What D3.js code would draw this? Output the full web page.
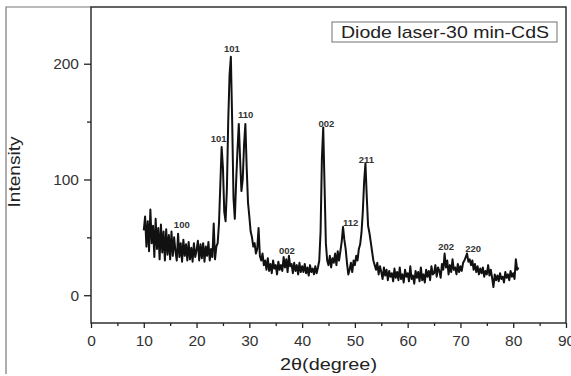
<!DOCTYPE html>
<html>
<head>
<meta charset="utf-8">
<script src="https://cdn.jsdelivr.net/npm/d3@7/dist/d3.min.js"></script>
<style>
  html, body { margin: 0; padding: 0; background: #fff; }
  svg { display: block; font-family: "Liberation Sans", Arial, sans-serif; }
</style>
</head>
<body>
<svg id="chart" width="571" height="376"></svg>
<script>
// XRD pattern of CdS film, diode laser 30 min
const scanStart = 10;      // first 2θ value (degree)
const scanStep = 0.25;     // 2θ step (degree)
const intensity = [
  // 10 - 15
  56, 68, 42, 64, 38, 74, 45, 60, 33, 66, 40, 58,
  31, 61, 37, 55, 30, 57, 35, 52, 31, 55, 34, 50,
  // 16 - 21
  38, 30, 53, 33, 45, 29, 48, 34, 44, 30, 46, 31,
  41, 29, 45, 33, 39, 47, 30, 44, 32, 45, 29, 42,
  // 22 - 23
  34, 46, 30, 40, 33, 62, 31, 42,
  // 24 - 33 : 101 / 101 / 110 group
  45, 62, 95, 128, 110, 72, 64, 92,
  150, 190, 206, 150, 84, 66, 98, 125,
  148, 118, 90, 100, 130, 148, 110, 80,
  68, 55, 50, 42, 45, 36, 40, 58,
  34, 30, 36, 26,
  // 33 - 43
  30, 22, 32, 21, 27, 19, 30, 23, 26, 18, 29, 22,
  26, 21, 33, 24, 31, 20, 34, 25, 27, 19, 28, 21,
  26, 18, 28, 20, 25, 20, 27, 19, 24, 17, 26, 20,
  23, 18, 25, 19,
  // 43 - 45 : 002
  24, 30, 55, 118, 145, 95, 45, 30,
  // 45 - 47
  26, 34, 24, 32, 28, 36, 26, 38,
  // 47 - 49 : 112
  30, 38, 46, 59, 48, 40, 28, 18,
  // 49 - 51
  22, 28, 20, 30, 26, 34, 30, 40,
  // 51 - 54 : 211
  44, 54, 72, 98, 114, 85, 60, 54, 46, 38, 30, 26,
  // 54 - 67
  22, 28, 18, 25, 20, 14, 24, 17, 22, 13, 21, 16,
  19, 12, 23, 15, 20, 13, 24, 14, 18, 11, 22, 16,
  19, 12, 25, 14, 17, 10, 21, 15, 20, 12, 24, 13,
  18, 11, 22, 16, 21, 13, 25, 18, 19, 26, 16, 24,
  21, 15, 27, 22,
  // 67 - 81 : 202 / 220
  36, 24, 30, 18, 26, 20, 31, 22, 24, 18, 27, 20,
  25, 21, 28, 30, 33, 36, 29, 31, 26, 30, 22, 27,
  20, 25, 18, 23, 19, 24, 16, 21, 18, 26, 17, 22,
  15, 7, 18, 13, 17, 12, 19, 14, 16, 11, 20, 15,
  18, 13, 21, 16, 19, 14, 31, 22, 24
];

// Miller index labels: text, 2θ (degree), intensity at the label baseline
const peakText = ["100", "101", "101", "110", "002", "002", "112", "211", "202", "220"];
const peakAngle = [17.2, 24.2, 26.7, 29.3, 37.1, 44.6, 49.2, 52.2, 67.3, 72.4];
const peakLevel = [58.4, 132, 210, 152.8, 35.9, 145, 60.2, 113.9, 39.4, 37.7];

const xMajorTicks = [0, 10, 20, 30, 40, 50, 60, 70, 80, 90];
const xMinorTicks = [5, 15, 25, 35, 45, 55, 65, 75, 85];
const yMajorTicks = [0, 100, 200];
const yMinorTicks = [50, 150];

const legendText = "Diode laser-30 min-CdS";
const xTitle = "2θ(degree)";
const yTitle = "Intensity";

const svg = d3.select("#chart");
const plotLeft = 91, plotRight = 566, plotTop = 7, plotBottom = 323;

const x = d3.scaleLinear().domain([0, 90]).range([plotLeft, plotRight]);
const y = d3.scaleLinear().domain([-24, 249]).range([plotBottom, plotTop]);

// outer image border
svg.append("path")
  .attr("d", `M6,374V${plotTop}H${plotLeft}`)
  .attr("fill", "none").attr("stroke", "#777").attr("stroke-width", 1.2);

// plot frame
svg.append("rect")
  .attr("x", plotLeft).attr("y", plotTop)
  .attr("width", plotRight - plotLeft).attr("height", plotBottom - plotTop)
  .attr("fill", "none").attr("stroke", "#222").attr("stroke-width", 1.4);

// axes
svg.append("g").attr("transform", `translate(0,${plotBottom})`)
  .call(d3.axisBottom(x).tickValues(xMajorTicks).tickSize(5).tickPadding(7).tickFormat(d3.format("d")));
svg.append("g").attr("transform", `translate(0,${plotBottom})`)
  .call(d3.axisBottom(x).tickValues(xMinorTicks).tickSize(3).tickFormat(""));
svg.append("g").attr("transform", `translate(${plotLeft},0)`)
  .call(d3.axisLeft(y).tickValues(yMajorTicks).tickSize(7).tickPadding(5).tickFormat(d3.format("d")));
svg.append("g").attr("transform", `translate(${plotLeft},0)`)
  .call(d3.axisLeft(y).tickValues(yMinorTicks).tickSize(4).tickFormat(""));

svg.selectAll(".domain").remove();
svg.selectAll(".tick line").attr("stroke", "#222").attr("stroke-width", 1.3);
svg.selectAll(".tick text")
  .attr("font-family", "Liberation Sans, Arial, sans-serif")
  .attr("font-size", 15.5).attr("fill", "#333");

// diffraction line
const pts = intensity.map((v, i) => [scanStart + i * scanStep, v]);
svg.append("path")
  .datum(pts)
  .attr("fill", "none")
  .attr("stroke", "#111")
  .attr("stroke-width", 2)
  .attr("stroke-linejoin", "round")
  .attr("d", d3.line().x(d => x(d[0])).y(d => y(d[1])));

// peak labels
svg.append("g").selectAll("text")
  .data(peakText)
  .join("text")
  .attr("x", (d, i) => x(peakAngle[i]))
  .attr("y", (d, i) => y(peakLevel[i]))
  .attr("text-anchor", "middle")
  .attr("font-size", 9.5).attr("font-weight", "bold").attr("fill", "#333")
  .text(d => d);

// legend box
svg.append("rect")
  .attr("x", 332).attr("y", 22).attr("width", 225).attr("height", 20)
  .attr("fill", "#fff").attr("stroke", "#888").attr("stroke-width", 1.2);
svg.append("text")
  .attr("x", 341).attr("y", 38)
  .attr("font-size", 17).attr("fill", "#222")
  .attr("textLength", 208).attr("lengthAdjust", "spacingAndGlyphs")
  .text(legendText);

// axis titles
svg.append("text")
  .attr("x", 328.5).attr("y", 370)
  .attr("text-anchor", "middle")
  .attr("font-size", 16).attr("fill", "#222")
  .attr("textLength", 97).attr("lengthAdjust", "spacingAndGlyphs")
  .text(xTitle);
svg.append("text")
  .attr("transform", "translate(20,172) rotate(-90)")
  .attr("text-anchor", "middle")
  .attr("font-size", 16).attr("fill", "#222")
  .attr("textLength", 71).attr("lengthAdjust", "spacingAndGlyphs")
  .text(yTitle);
</script>
</body>
</html>
